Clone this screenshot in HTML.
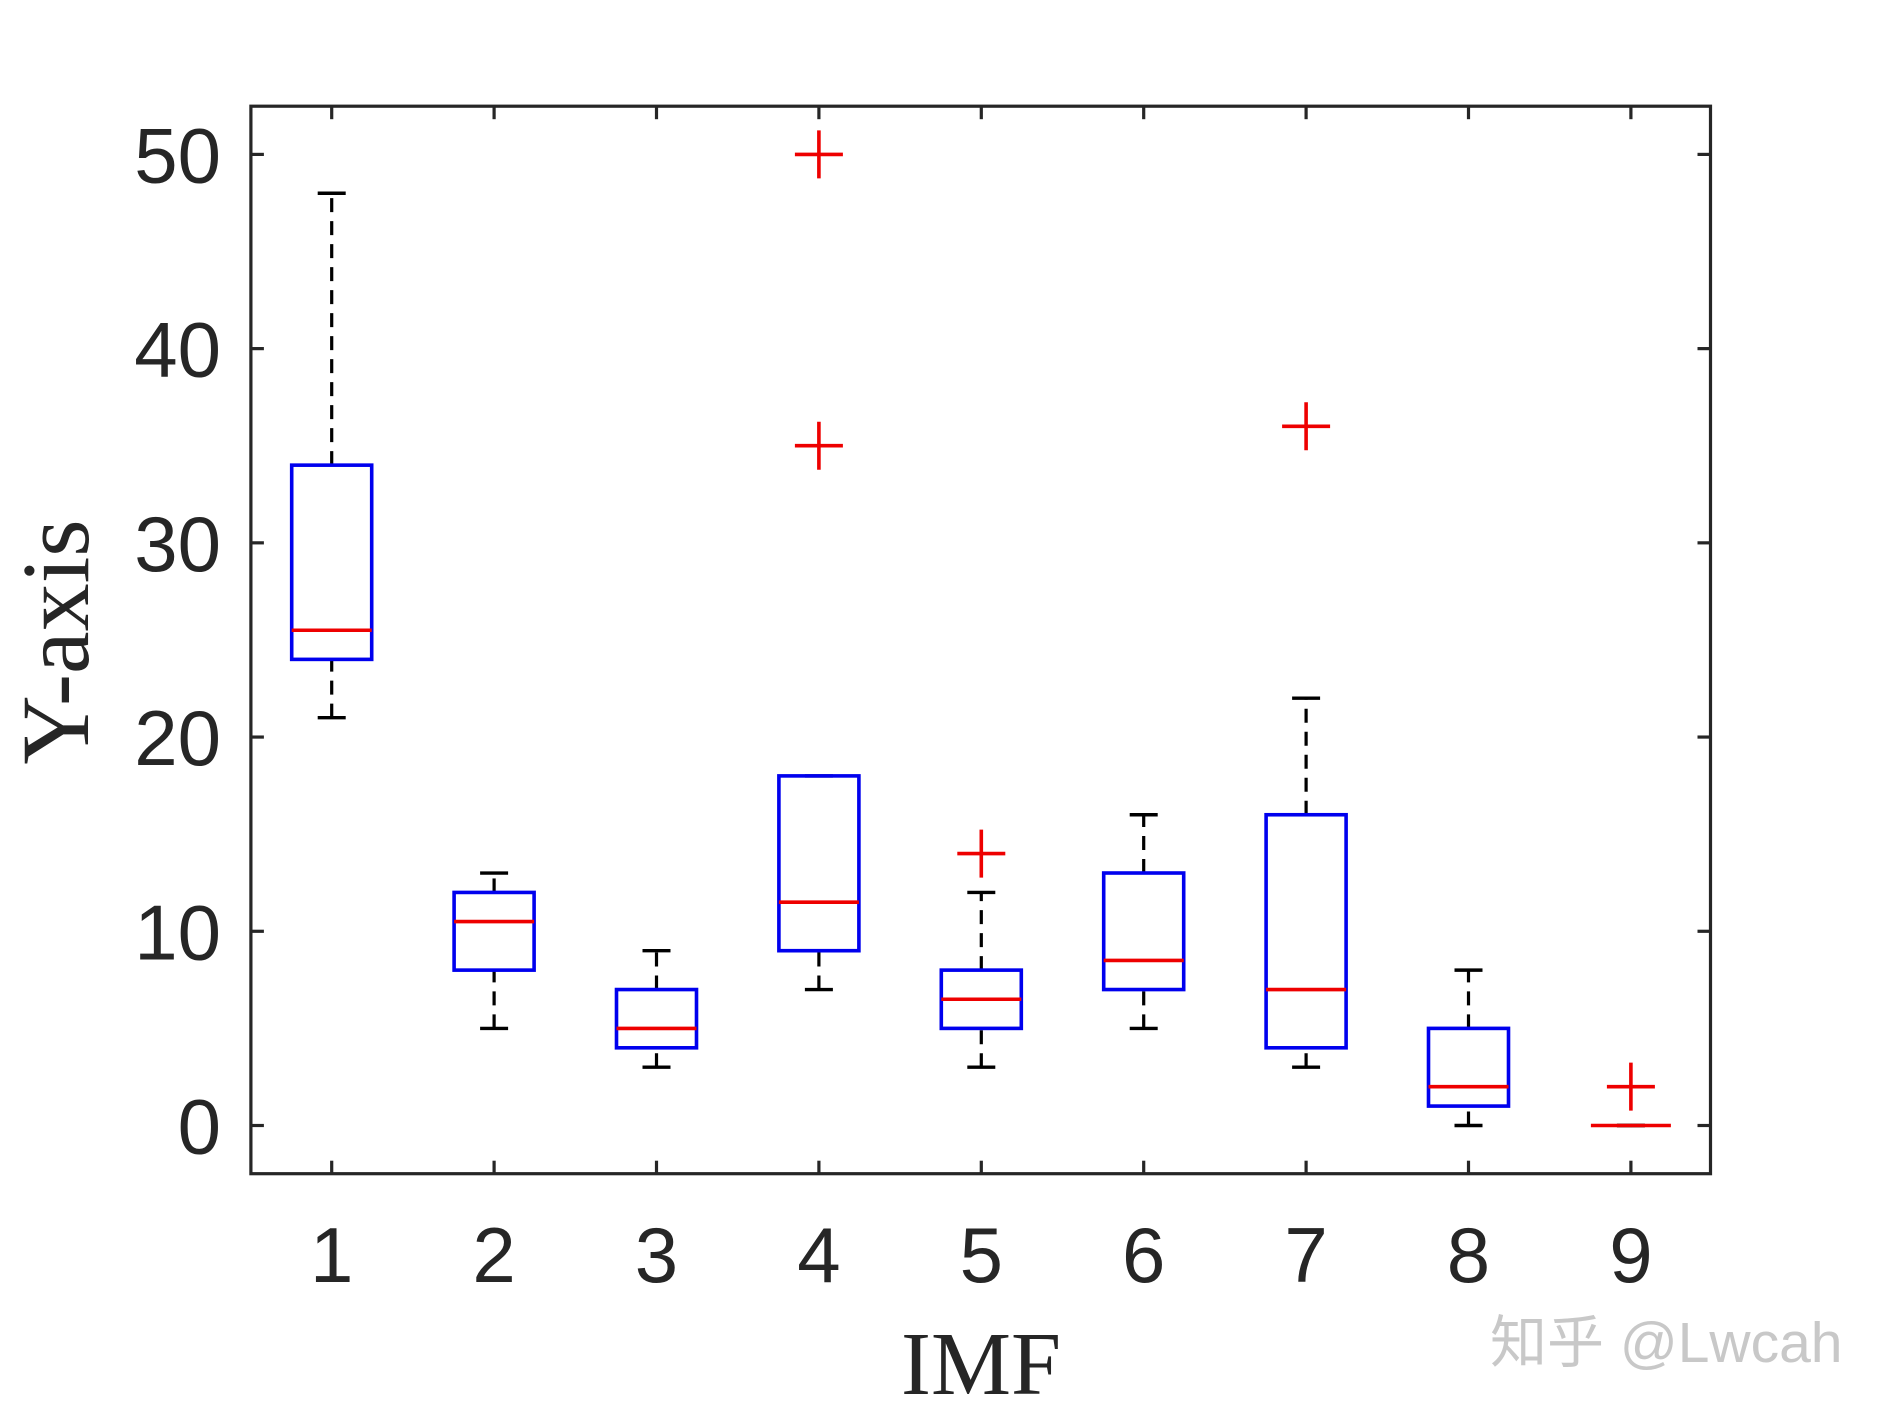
<!DOCTYPE html>
<html><head><meta charset="utf-8"><style>
html,body{margin:0;padding:0;background:#fff;}
svg{display:block;}
</style></head><body>
<svg id="chart" width="1890" height="1417" viewBox="0 0 1890 1417" xmlns="http://www.w3.org/2000/svg">
<g id="plot"></g>
<text transform="translate(88,642) rotate(-90)" text-anchor="middle" font-family="Liberation Serif, serif" font-size="96" fill="#262626">Y-axis</text>
<text x="981" y="1394" text-anchor="middle" font-family="Liberation Serif, serif" font-size="90" fill="#262626">IMF</text>
<text x="1490" y="1362" font-family="Liberation Sans, 'Noto Sans CJK SC', sans-serif" font-size="57" fill="#c8c8c8">知乎 @Lwcah</text>
</svg>
<script>
const categories = [1,2,3,4,5,6,7,8,9];
const lowerWhisker = [21,5,3,7,3,5,3,0,0];
const q1 = [24,8,4,9,5,7,4,1,0];
const medians = [25.5,10.5,5,11.5,6.5,8.5,7,2,0];
const q3 = [34,12,7,18,8,13,16,5,0];
const upperWhisker = [48,13,9,18,12,16,22,8,0];
const outliers = [[],[],[],[35,50],[14],[],[36],[],[2]];
const yTicks = [0,10,20,30,40,50];

const L=250.9,R=1710.5,T=106.2,B=1173.7;
const xs = v => 331.7 + (v-1)*(1630.9-331.7)/8;
const ys = v => 1125.5 - v*(1125.5-154.4)/50;
const NS='http://www.w3.org/2000/svg';
const g=document.getElementById('plot');
function mk(tag,attrs){const e=document.createElementNS(NS,tag);for(const k in attrs)e.setAttribute(k,attrs[k]);g.appendChild(e);return e;}

const frame=mk('rect',{x:L,y:T,width:R-L,height:B-T,fill:'none',stroke:'#262626','stroke-width':3.2});



yTicks.forEach(t=>{
  const y=ys(t);
  const a=mk('line',{x1:L,x2:L+13,y1:y,y2:y,stroke:'#262626','stroke-width':3.2});
  
  
  const b=mk('line',{x1:R-13,x2:R,y1:y,y2:y,stroke:'#262626','stroke-width':3.2});
  
  
  const tx=mk('text',{x:221,y:y+28,'text-anchor':'end','font-family':'Liberation Sans, sans-serif','font-size':78,fill:'#262626'});
  tx.textContent=t;
  
  
});
categories.forEach((c,i)=>{
  const x=xs(c);
  const a=mk('line',{x1:x,x2:x,y1:B,y2:B-13,stroke:'#262626','stroke-width':3.2});
  
  
  const b=mk('line',{x1:x,x2:x,y1:T,y2:T+13,stroke:'#262626','stroke-width':3.2});
  
  
  const tx=mk('text',{x:x,y:1282,'text-anchor':'middle','font-family':'Liberation Sans, sans-serif','font-size':78,fill:'#262626'});
  tx.textContent=c;
  
  

  const hw=40, cw=14;
  const w1=mk('line',{x1:x,x2:x,y1:ys(q3[i]),y2:ys(upperWhisker[i]),stroke:'#000','stroke-width':3.2,'stroke-dasharray':'14,9'});
  
  
  const w2=mk('line',{x1:x,x2:x,y1:ys(lowerWhisker[i]),y2:ys(q1[i]),stroke:'#000','stroke-width':3.2,'stroke-dasharray':'14,9'});
  
  
  const c1=mk('line',{x1:x-cw,x2:x+cw,y1:ys(upperWhisker[i]),y2:ys(upperWhisker[i]),stroke:'#000','stroke-width':3.4});
  
  
  const c2=mk('line',{x1:x-cw,x2:x+cw,y1:ys(lowerWhisker[i]),y2:ys(lowerWhisker[i]),stroke:'#000','stroke-width':3.4});
  
  
  const box=mk('rect',{x:x-hw,y:ys(q3[i]),width:2*hw,height:Math.max(0,ys(q1[i])-ys(q3[i])),fill:'none',stroke:'#0000ee','stroke-width':3.6});
  
  
  const md=mk('line',{x1:x-hw,x2:x+hw,y1:ys(medians[i]),y2:ys(medians[i]),stroke:'#ee0000','stroke-width':3.6});
  
  
  outliers[i].forEach(o=>{
    const y=ys(o), s=24;
    const p=mk('path',{d:`M${x-s},${y}H${x+s}M${x},${y-s}V${y+s}`,stroke:'#ee0000','stroke-width':3.6,fill:'none'});
    
    
  });
});
</script>
</body></html>
